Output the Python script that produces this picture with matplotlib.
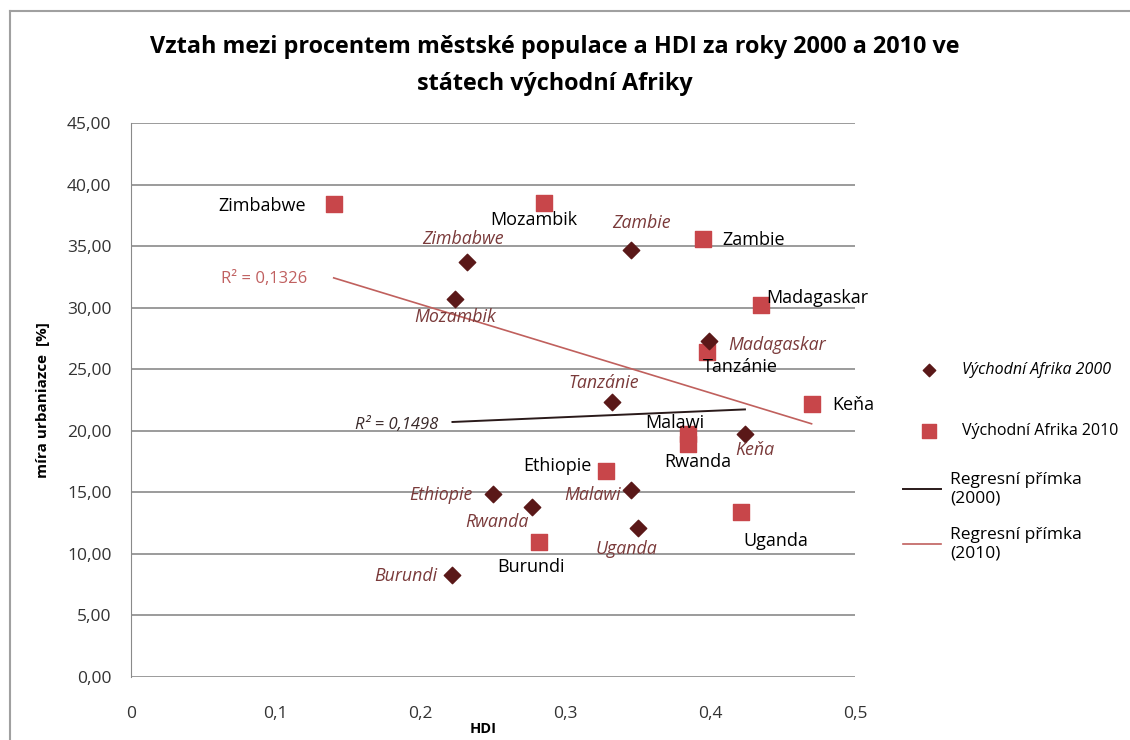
import matplotlib.pyplot as plt
import numpy as np

plt.rcParams['font.family'] = ['Open Sans', 'DejaVu Sans']

# ---- data ----
countries_2000 = ['Zimbabwe', 'Mozambik', 'Zambie', 'Madagaskar', 'Tanzánie', 'Keňa',
                  'Ethiopie', 'Malawi', 'Rwanda', 'Uganda', 'Burundi']
hdi_2000 = [0.232, 0.224, 0.345, 0.399, 0.332, 0.424, 0.250, 0.345, 0.277, 0.350, 0.222]
urb_2000 = [33.7, 30.7, 34.7, 27.3, 22.3, 19.7, 14.9, 15.2, 13.8, 12.1, 8.3]

countries_2010 = ['Zimbabwe', 'Mozambik', 'Zambie', 'Madagaskar', 'Tanzánie', 'Keňa',
                  'Malawi', 'Rwanda', 'Ethiopie', 'Uganda', 'Burundi']
hdi_2010 = [0.140, 0.285, 0.395, 0.435, 0.398, 0.470, 0.385, 0.385, 0.328, 0.421, 0.282]
urb_2010 = [38.4, 38.5, 35.6, 30.2, 26.4, 22.2, 19.7, 18.9, 16.7, 13.4, 11.0]

r2_2000 = '0,1498'
r2_2010 = '0,1326'

yticks = np.arange(0, 46, 5)
xticks = [0, 0.1, 0.2, 0.3, 0.4, 0.5]
xticklabels = ['0', '0,1', '0,2', '0,3', '0,4', '0,5']

c2000 = '#5a1818'
c2010 = '#c8464a'
lab2000 = '#7a3a3a'

fig = plt.figure(figsize=(11.3, 7.4), dpi=100)
ax = fig.add_axes([131/1130, 1-677/740, (855-131)/1130, (677-123)/740])

for y in yticks:
    ax.axhline(y, color='#8a8a8a', lw=1.2, zorder=0)

sc0 = ax.scatter(hdi_2000, urb_2000, marker='D', s=70, color=c2000, zorder=3)
sc1 = ax.scatter(hdi_2010, urb_2010, marker='s', s=125, color=c2010, zorder=2)

# regression lines over the data range
k0, q0 = np.polyfit(hdi_2000, urb_2000, 1)
xs0 = np.array([min(hdi_2000), max(hdi_2000)])
ln0, = ax.plot(xs0, k0*xs0 + q0, color='#2a1a1a', lw=1.4)
k1, q1 = np.polyfit(hdi_2010, urb_2010, 1)
xs1 = np.array([min(hdi_2010), max(hdi_2010)])
ln1, = ax.plot(xs1, k1*xs1 + q1, color='#c0605d', lw=1.2)

# point labels (offsets in points)
off2000 = {'Zimbabwe': (-3, 17, 'center'), 'Mozambik': (0, -13, 'center'),
           'Zambie': (8, 19, 'center'), 'Madagaskar': (14, -3, 'left'),
           'Tanzánie': (-6, 14, 'center'), 'Keňa': (7, -11, 'center'),
           'Ethiopie': (-15, -1, 'right'), 'Malawi': (-7, -4, 'right'),
           'Rwanda': (-25, -11, 'center'), 'Uganda': (-8, -15, 'center'),
           'Burundi': (-11, -1, 'right')}
for name, x, y in zip(countries_2000, hdi_2000, urb_2000):
    dx, dy, ha = off2000[name]
    ax.annotate(name, (x, y), xytext=(dx, dy), textcoords='offset points',
                ha=ha, va='center', fontsize=12.8, style='italic', color=lab2000)

off2010 = {'Zimbabwe': (-20, -1, 'right'), 'Mozambik': (-7, -12, 'center'),
           'Zambie': (14, -1, 'left'), 'Madagaskar': (4, 5, 'left'),
           'Tanzánie': (24, -11, 'center'), 'Keňa': (15, -1, 'left'),
           'Malawi': (-10, 8, 'center'), 'Rwanda': (7, -13, 'center'),
           'Ethiopie': (-35, 4, 'center'), 'Uganda': (25, -21, 'center'),
           'Burundi': (-6, -18, 'center')}
for name, x, y in zip(countries_2010, hdi_2010, urb_2010):
    dx, dy, ha = off2010[name]
    ax.annotate(name, (x, y), xytext=(dx, dy), textcoords='offset points',
                ha=ha, va='center', fontsize=13, color='black')

ax.annotate('R² = ' + r2_2010, (xs1[0], k1*xs1[0] + q1), xytext=(-19, -1),
            textcoords='offset points', ha='right', va='center', fontsize=12, color='#c06060')
ax.annotate('R² = ' + r2_2000, (xs0[0], k0*xs0[0] + q0), xytext=(-10, -2),
            textcoords='offset points', ha='right', va='center', fontsize=12,
            style='italic', color='#3a2a2a')

ax.set_xlim(0, 0.5)
ax.set_ylim(0, 45)
ax.set_yticks(yticks)
ax.set_yticklabels(['%d,00' % v for v in yticks])
ax.set_xticks(xticks)
ax.set_xticklabels(xticklabels)
ax.tick_params(length=0, labelsize=12.5, colors='#333333')
ax.tick_params(axis='y', pad=14)
ax.tick_params(axis='x', pad=21)
for s in ['top', 'right', 'bottom']:
    ax.spines[s].set_visible(False)
ax.spines['left'].set_color('#8a8a8a')
ax.set_xlabel('HDI', fontsize=10.5, fontweight='bold')
ax.set_ylabel('míra urbaniazce  [%]', fontsize=11, fontweight='bold')
ax.yaxis.set_label_coords(-0.112, 0.5)
ax.xaxis.set_label_coords(0.486, -45/554)

fig.text(555/1130, 1-65.5/740, 'Vztah mezi procentem městské populace a HDI za roky 2000 a 2010 ve\nstátech východní Afriky',
         ha='center', va='center', fontsize=16.8, fontweight='bold', linespacing=1.72)

leg1 = fig.legend([sc0, sc1], ['Východní Afrika 2000', 'Východní Afrika 2010'],
                  loc='center left', bbox_to_anchor=(895/1130, 1-400.5/740), frameon=False,
                  fontsize=11.5, labelspacing=2.85, handlelength=2.5, handletextpad=0.8,
                  scatterpoints=1)
leg1.get_texts()[0].set_fontstyle('italic')
leg1.legend_handles[0].set_sizes([40])
leg1.legend_handles[1].set_sizes([90])

leg2 = fig.legend([ln0, ln1], ['Regresní přímka\n(2000)', 'Regresní přímka\n(2010)'],
                  loc='center left', bbox_to_anchor=(887/1130, 1-516.5/740), frameon=False,
                  fontsize=12.5, labelspacing=1.2, handlelength=2.2, handletextpad=0.55)

# outer chart frame
fig.add_artist(plt.Line2D([10/1130, 1], [1-11/740, 1-11/740], color='#a0a0a0', lw=1.5))
fig.add_artist(plt.Line2D([10/1130, 10/1130], [0, 1-11/740], color='#a0a0a0', lw=1.5))

fig.savefig('out.png', dpi=100)
